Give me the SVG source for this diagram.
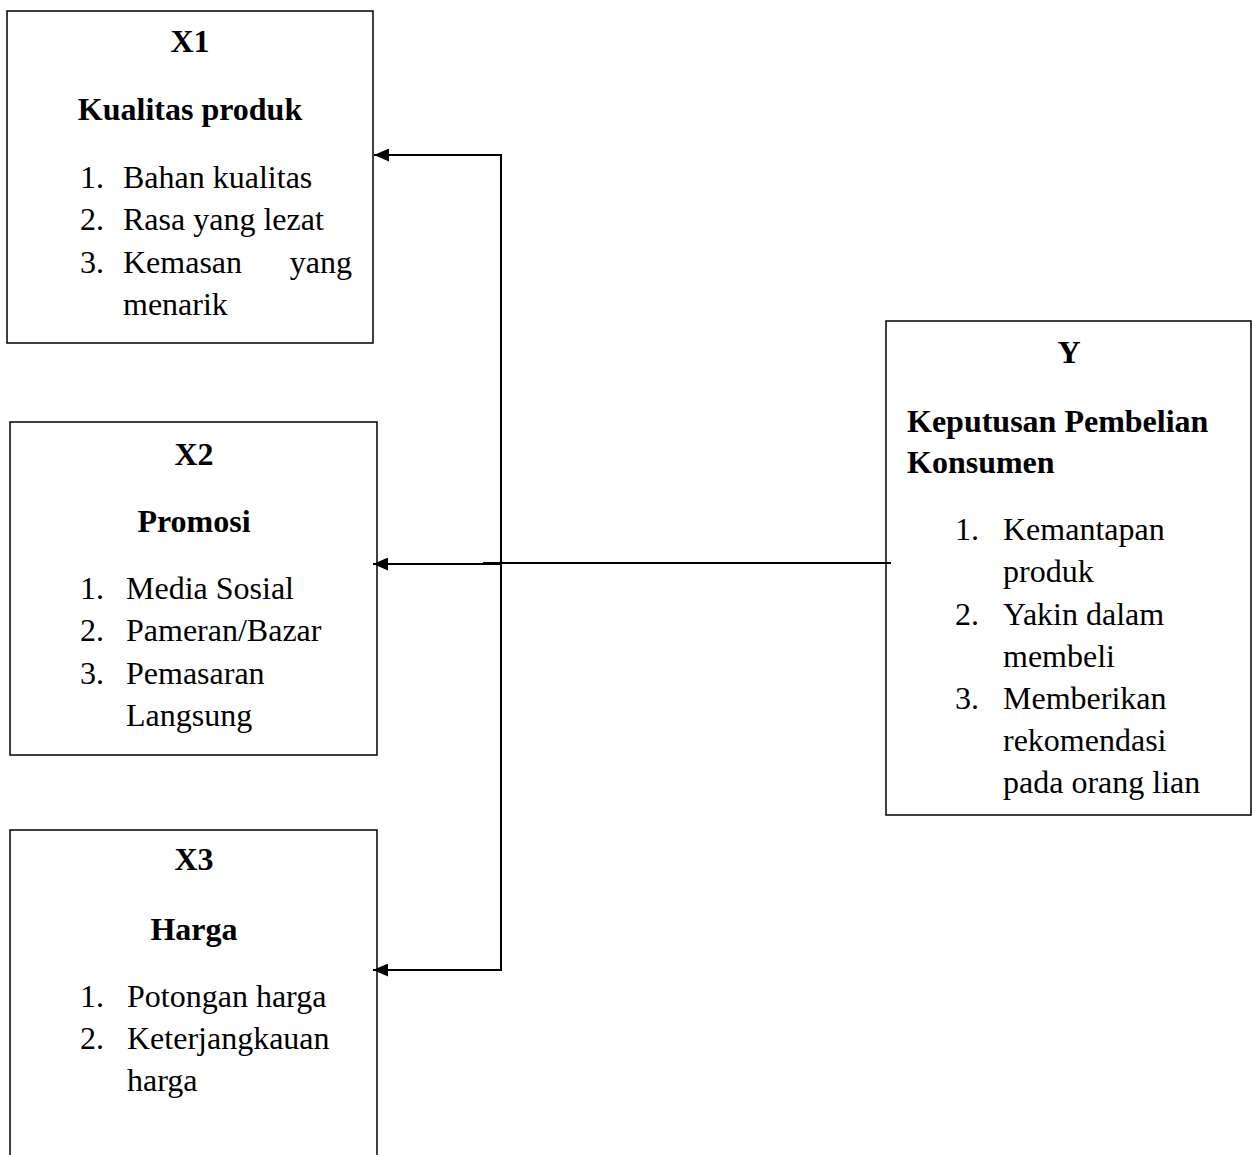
<svg xmlns="http://www.w3.org/2000/svg" width="1252" height="1155" viewBox="0 0 1252 1155">
<style>
.box{fill:#fff;stroke:#000;stroke-width:1.5}
.t{font-family:"Liberation Serif","Times New Roman",serif;font-size:32px;fill:#000}
.b{font-weight:bold}
.c{text-anchor:middle}
.ln{stroke:#000;stroke-width:2;fill:none}
</style>
<defs>
<marker id="ah" viewBox="0 0 10 10" refX="10" refY="5" markerWidth="15" markerHeight="13" markerUnits="userSpaceOnUse" orient="auto" preserveAspectRatio="none">
<path d="M0,0 L10,5 L0,10 Z" fill="#000"/>
</marker>
</defs>
<rect x="0" y="0" width="1252" height="1155" fill="#fff"/>
<g id="x1">
<rect class="box" x="7" y="11" width="366" height="332"/>
<text class="t b c" x="190" y="52">X1</text>
<text class="t b c" x="190" y="120">Kualitas produk</text>
<text class="t" x="80" y="188">1.</text><text class="t" x="123" y="188">Bahan kualitas</text>
<text class="t" x="80" y="230">2.</text><text class="t" x="123" y="230">Rasa yang lezat</text>
<text class="t" x="80" y="273">3.</text><text class="t" x="123" y="273">Kemasan</text><text class="t" x="352" y="273" text-anchor="end">yang</text>
<text class="t" x="123" y="315">menarik</text>
</g>
<g id="x2">
<rect class="box" x="10" y="422" width="367" height="333"/>
<text class="t b c" x="194" y="465">X2</text>
<text class="t b c" x="194" y="532">Promosi</text>
<text class="t" x="80" y="599">1.</text><text class="t" x="126" y="599">Media Sosial</text>
<text class="t" x="80" y="641">2.</text><text class="t" x="126" y="641">Pameran/Bazar</text>
<text class="t" x="80" y="684">3.</text><text class="t" x="126" y="684">Pemasaran</text>
<text class="t" x="126" y="726">Langsung</text>
</g>
<g id="x3">
<path class="box" d="M10,1160 L10,830 L377,830 L377,1160"/>
<text class="t b c" x="194" y="870">X3</text>
<text class="t b c" x="194" y="940">Harga</text>
<text class="t" x="80" y="1007">1.</text><text class="t" x="127" y="1007">Potongan harga</text>
<text class="t" x="80" y="1049">2.</text><text class="t" x="127" y="1049">Keterjangkauan</text>
<text class="t" x="127" y="1091">harga</text>
</g>
<g id="y">
<rect class="box" x="886" y="321" width="365" height="494"/>
<text class="t b c" x="1069" y="363">Y</text>
<text class="t b" x="907" y="432">Keputusan Pembelian</text>
<text class="t b" x="907" y="473">Konsumen</text>
<text class="t" x="955" y="540">1.</text><text class="t" x="1003" y="540">Kemantapan</text>
<text class="t" x="1003" y="582">produk</text>
<text class="t" x="955" y="625">2.</text><text class="t" x="1003" y="625">Yakin dalam</text>
<text class="t" x="1003" y="667">membeli</text>
<text class="t" x="955" y="709">3.</text><text class="t" x="1003" y="709">Memberikan</text>
<text class="t" x="1003" y="751">rekomendasi</text>
<text class="t" x="1003" y="793">pada orang lian</text>
</g>
<g id="connectors">
<line class="ln" x1="501" y1="154" x2="501" y2="971"/>
<line class="ln" x1="502" y1="155" x2="374" y2="155" marker-end="url(#ah)"/>
<line class="ln" x1="502" y1="970" x2="373" y2="970" marker-end="url(#ah)"/>
<line class="ln" x1="891" y1="563" x2="483" y2="563"/>
<line class="ln" x1="501" y1="564" x2="373" y2="564" marker-end="url(#ah)"/>
</g>
</svg>
